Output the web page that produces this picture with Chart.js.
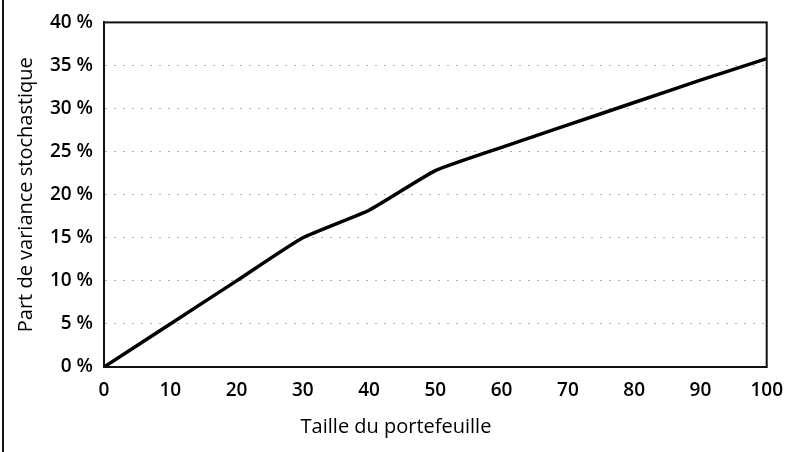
<!DOCTYPE html>
<html>
<head>
<meta charset="utf-8">
<script src="https://cdn.jsdelivr.net/npm/chart.js@4/dist/chart.umd.min.js"></script>
<style>
  html, body { margin: 0; padding: 0; background: #fff; }
  #wrap { position: relative; width: 795px; height: 452px; }
  #frame { position: absolute; left: 2px; top: 0; width: 2px; height: 452px; background: #111; }
</style>
</head>
<body>
<div id="wrap">
  <canvas id="c" width="795" height="452"></canvas>
  <div id="frame"></div>
</div>
<script>
// Taille du portefeuille vs part de variance stochastique (%)
const sizes = [0, 10, 20, 30, 40, 50, 60, 70, 80, 90, 100];
const stochShare = [0, 5, 10, 15, 18.2, 22.8, 25.5, 28.1, 30.7, 33.3, 35.8];
const xTitle = 'Taille du portefeuille';
const yTitle = 'Part de variance stochastique';

const FONT = '"Open Sans", Lato, sans-serif';

// draw the closed box around the plot area
const boxPlugin = {
    id: 'plotBox',
    afterDraw(chart) {
        const { ctx, chartArea: a } = chart;
        ctx.save();
        ctx.strokeStyle = '#111';
        ctx.lineWidth = 2;
        ctx.strokeRect(a.left, a.top, a.right - a.left, a.bottom - a.top);
        ctx.restore();
    }
};

new Chart(document.getElementById('c'), {
    type: 'line',
    data: {
        datasets: [{
            data: sizes.map((x, i) => ({ x, y: stochShare[i] })),
            borderColor: '#000',
            borderWidth: 3.5,
            pointRadius: 0,
            tension: 0.15,
            fill: false,
        }],
    },
    options: {
        responsive: false,
        animation: false,
        layout: { padding: { left: 14, right: 17, top: 16, bottom: 0 } },
        plugins: {
            legend: { display: false },
            tooltip: { enabled: false },
            // the x title is centred on the whole picture, not the plot
            title: {
                display: true, position: 'bottom', text: xTitle, color: '#000',
                font: { family: FONT, size: 20, weight: 'normal' },
                padding: { top: 0, bottom: 13 },
            },
        },
        scales: {
            x: {
                type: 'linear',
                min: 0, max: 100,
                ticks: { stepSize: 10, padding: 12, color: '#000', font: { family: FONT, size: 19, weight: '600' } },
                grid: { display: false, drawTicks: false },
                border: { color: '#111', width: 2 },
                afterFit(scale) { scale.height = 48; },
            },
            y: {
                min: 0, max: 40,
                ticks: {
                    stepSize: 5, padding: 11, color: '#000',
                    font: { family: FONT, size: 19, weight: '600' },
                    callback: v => v + ' %',
                },
                // faint dotted grid like the scan
                grid: { color: 'rgba(0,0,0,0.3)', lineWidth: 1, drawTicks: false },
                border: { color: '#111', width: 2, dash: [2, 7] },
                title: { display: true, text: yTitle, color: '#000', font: { family: FONT, size: 20 }, padding: { top: 0, bottom: 0 } },
                afterFit(scale) { scale.width = 90; },
            },
        },
    },
    plugins: [boxPlugin],
});
</script>
</body>
</html>
